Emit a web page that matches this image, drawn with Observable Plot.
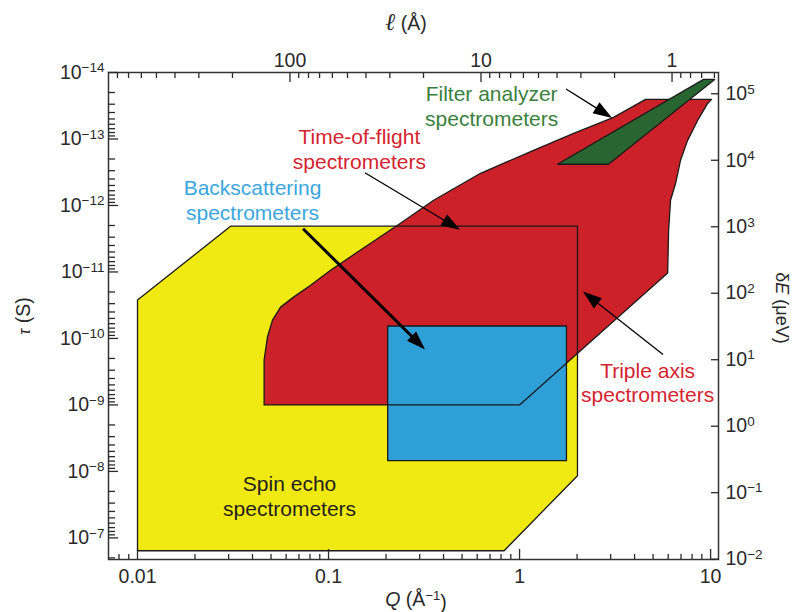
<!DOCTYPE html>
<html><head><meta charset="utf-8">
<script src="https://cdn.jsdelivr.net/npm/d3@7"></script>
<script src="https://cdn.jsdelivr.net/npm/@observablehq/plot@0.6"></script>
<style>
html,body{margin:0;padding:0;background:#fff;}
#chart{width:796px;height:612px;}
</style></head><body><div id="chart"></div>
<script>
// ---------- data (Q in Å^-1, tau in s) ----------
const spinQ   = [0.01, 0.0307, 2.01, 2.01, 0.83, 0.01];
const spinTau = [2.65e-11, 2.05e-12, 2.05e-12, 1.16e-8, 1.56e-7, 1.56e-7];

const tofQ   = [0.046, 0.046, 0.0479, 0.0509, 0.0561, 0.0656, 0.0805, 0.1025, 0.238, 0.355, 0.625, 1.184, 1.918, 3.105, 4.567, 10.12, 9.65, 8.55, 7.58, 6.96, 6.56, 6.17, 6.03, 5.96, 1.0];
const tofTau = [1.0e-9, 2.11e-10, 9.5e-11, 5.3e-11, 3.38e-11, 2.39e-11, 1.58e-11, 9.4e-12, 1.85e-12, 8.36e-13, 3.28e-13, 1.48e-13, 8.24e-14, 4.74e-14, 2.54e-14, 2.54e-14, 2.92e-14, 5.26e-14, 1.05e-13, 2.09e-13, 4.64e-13, 8.36e-13, 2.36e-12, 1.04e-11, 1.0e-9];

const backQ   = [0.204, 1.76, 1.76, 0.204];
const backTau = [6.5e-11, 6.5e-11, 6.9e-9, 6.9e-9];

const filtQ   = [1.58, 2.92, 10.5, 9.19];
const filtTau = [2.4e-13, 2.4e-13, 1.27e-14, 1.27e-14];

const labelText  = ["Filter analyzer\nspectrometers", "Time-of-flight\nspectrometers", "Backscattering\nspectrometers", "Spin echo\nspectrometers", "Triple axis\nspectrometers"];
const labelQ     = [0.714, 0.145, 0.04, 0.0625, 4.68];
const labelTau   = [3.13e-14, 1.38e-13, 8.07e-13, 2.32e-8, 4.52e-10];
const labelColor = ["#3b7f3c", "#d42430", "#3ba6de", "#231f20", "#d42430"];

const arrowQ1   = [1.762, 0.156, 0.074, 5.67];
const arrowTau1 = [1.8e-14, 3.28e-13, 2.28e-12, 1.77e-10];
const arrowQ2   = [3.07, 0.491, 0.322, 2.16];
const arrowTau2 = [4.9e-14, 2.36e-12, 1.49e-10, 2.01e-11];
const arrowWidth = [1.3, 1.3, 3, 1.3];

const qMajor = [0.01, 0.1, 1, 10];
const qMinor = [0.008, 0.009, 0.02, 0.03, 0.04, 0.05, 0.06, 0.07, 0.08, 0.09, 0.2, 0.3, 0.4, 0.5, 0.6, 0.7, 0.8, 0.9, 2, 3, 4, 5, 6, 7, 8, 9];
const tauExp = [-14, -13, -12, -11, -10, -9, -8, -7];
const tauMinorMant = [2, 3, 4, 5, 6, 7, 8, 9];
const lMajor = [100, 10, 1];
const lMinor = [800, 700, 600, 500, 400, 300, 200, 90, 80, 70, 60, 50, 40, 30, 20, 9, 8, 7, 6, 5, 4, 3, 2, 0.9, 0.8, 0.7, 0.6];
const dEExp = [-2, -1, 0, 1, 2, 3, 4, 5];
const logC = -8.68; // δE(μeV) · τ(s) constant

// ---------- helpers ----------
const poly = (qs, ts) => qs.concat([qs[0]]).map((q, i) => ({q, t: ts.concat([ts[0]])[i]}));
const SUP = {"-": "⁻", "0": "⁰", "1": "¹", "2": "²", "3": "³", "4": "⁴", "5": "⁵", "6": "⁶", "7": "⁷", "8": "⁸", "9": "⁹"};
const supStr = n => "10" + String(n).split("").map(c => SUP[c]).join("");
const tauMajor = tauExp.map(e => Math.pow(10, e));
const tauMinor = tauExp.flatMap(e => tauMinorMant.map(m => m * Math.pow(10, e))).filter(v => v <= 2.1e-7);
const twoPi = 2 * Math.PI;

const spin = poly(spinQ, spinTau), tof = poly(tofQ, tofTau), back = poly(backQ, backTau), filt = poly(filtQ, filtTau);
const labels = labelText.map((s, i) => ({s, q: labelQ[i], t: labelTau[i], c: labelColor[i]}));
const arrows = arrowQ1.map((q1, i) => ({q1, t1: arrowTau1[i], q2: arrowQ2[i], t2: arrowTau2[i], w: arrowWidth[i]}));
const dETicks = dEExp.map(e => ({e, t: Math.pow(10, logC - e)}));

const YEL = "#f1e912", RED = "#cc2129", BLU = "#2f9fd8", GRN = "#296530", EDGE = "#1a1a1a";

function arrowsMark(index, scales) {
  const {x, y} = scales;
  const g = d3.create("svg:g").attr("aria-label", "arrows");
  for (const a of arrows) {
    const x1 = x(a.q1), y1 = y(a.t1), x2 = x(a.q2), y2 = y(a.t2);
    const ang = Math.atan2(y2 - y1, x2 - x1);
    const L = 19, hw = 6.5;
    const bx = x2 - L * Math.cos(ang), by = y2 - L * Math.sin(ang);
    g.append("line").attr("x1", x1).attr("y1", y1).attr("x2", bx + 2 * Math.cos(ang)).attr("y2", by + 2 * Math.sin(ang))
      .attr("stroke", "#000").attr("stroke-width", a.w);
    const p = [[x2, y2], [bx + hw * Math.sin(ang), by - hw * Math.cos(ang)], [bx - hw * Math.sin(ang), by + hw * Math.cos(ang)]];
    g.append("polygon").attr("points", p.map(d => d.join(",")).join(" ")).attr("fill", "#000");
  }
  return g.node();
}

const chart = Plot.plot({
  width: 796, height: 612,
  marginLeft: 108, marginTop: 72, marginRight: 78, marginBottom: 53,
  style: {fontFamily: "'Liberation Sans', Arial, sans-serif", fontSize: "19.5px", color: "#2a2a2a", background: "#fff"},
  x: {type: "log", domain: [0.00705, 11.0], label: null},
  y: {type: "log", domain: [1e-14, Math.pow(10, -6.675)], reverse: true, label: null},
  marks: [
    // fills
    Plot.line(spin, {x: "q", y: "t", fill: YEL, stroke: "none"}),
    Plot.line(tof, {x: "q", y: "t", fill: RED, stroke: "none"}),
    Plot.line(back, {x: "q", y: "t", fill: BLU, stroke: "none"}),
    // outlines
    Plot.line(spin, {x: "q", y: "t", stroke: EDGE, strokeWidth: 1.3}),
    Plot.line(tof, {x: "q", y: "t", stroke: EDGE, strokeWidth: 1.3}),
    Plot.line(back, {x: "q", y: "t", stroke: EDGE, strokeWidth: 1.3}),
    Plot.line(filt, {x: "q", y: "t", fill: GRN, stroke: EDGE, strokeWidth: 1.3}),
    // annotations
    Plot.text(labels, {x: "q", y: "t", text: "s", fill: "c", fontSize: 21, lineHeight: 1.19, textAnchor: "middle"}),
    arrowsMark,
    // axes
    Plot.frame({stroke: "#333", strokeWidth: 1.5}),
    Plot.axisX(qMajor, {anchor: "bottom", tickSize: -10, tickPadding: 20, tickFormat: d => String(d), label: null, strokeWidth: 1.3}),
    Plot.axisX(qMinor, {anchor: "bottom", tickSize: -5, text: null, label: null, strokeWidth: 1.3}),
    Plot.axisX(lMajor.map(l => twoPi / l), {anchor: "top", tickSize: -9, text: null, label: null, strokeWidth: 1.3}),
    Plot.axisX(lMinor.map(l => twoPi / l), {anchor: "top", tickSize: -5, text: null, label: null, strokeWidth: 1.3}),
    Plot.text(lMajor, {x: l => twoPi / l, text: l => String(l), frameAnchor: "top", lineAnchor: "bottom", dy: -6, fontSize: 19.5}),
    Plot.axisY(tauMajor, {anchor: "left", tickSize: -10, tickPadding: 14, tickFormat: t => supStr(Math.round(Math.log10(t))), label: null, strokeWidth: 1.3}),
    Plot.axisY(tauMinor, {anchor: "left", tickSize: -7, text: null, label: null, strokeWidth: 1.3}),
    Plot.axisY(dETicks.map(d => d.t), {anchor: "right", tickSize: -8, text: null, label: null, strokeWidth: 1.3}),
    Plot.text(dETicks, {y: "t", text: d => supStr(d.e), frameAnchor: "right", textAnchor: "start", dx: 7, fontSize: 19.5})
  ]
});

// turn unicode superscripts into real superscript tspans
const BACK = {"⁻": "−", "⁰": "0", "¹": "1", "²": "2", "³": "3", "⁴": "4", "⁵": "5", "⁶": "6", "⁷": "7", "⁸": "8", "⁹": "9"};
d3.select(chart).selectAll("text").each(function() {
  const s = this.textContent;
  if (/^10[⁻⁰¹²³⁴⁵⁶⁷⁸⁹]+$/.test(s)) {
    const exp = s.slice(2).split("").map(c => BACK[c]).join("");
    const el = d3.select(this);
    el.text(null);
    el.append("tspan").text("10");
    el.append("tspan").attr("dy", "-0.48em").attr("font-size", "13.5px").text(exp);
  }
});

// axis titles
const svgSel = d3.select(chart);
const lab = svgSel.append("g").attr("fill", "#2a2a2a").attr("font-size", "19.5px");
const topLab = lab.append("text").attr("x", 406).attr("y", 30).attr("text-anchor", "middle");
topLab.append("tspan").attr("font-style", "italic").attr("font-family", "'DejaVu Serif', serif").attr("font-size", "24px").text("ℓ");
topLab.append("tspan").text(" (Å)");
const botLab = lab.append("text").attr("x", 416).attr("y", 606).attr("text-anchor", "middle");
botLab.append("tspan").attr("font-style", "italic").text("Q");
botLab.append("tspan").text(" (Å");
botLab.append("tspan").attr("dy", "-0.48em").attr("font-size", "13px").text("−1");
botLab.append("tspan").attr("dy", "0.48em").text(")");
const leftLab = lab.append("text").attr("transform", "translate(30,316) rotate(-90)").attr("text-anchor", "middle");
leftLab.append("tspan").attr("font-style", "italic").attr("font-size", "16px").text("τ");
leftLab.append("tspan").text(" (S)");
const rightLab = lab.append("text").attr("transform", "translate(776,308) rotate(90)").attr("text-anchor", "middle").attr("font-size", "18px");
rightLab.append("tspan").text("δ");
rightLab.append("tspan").attr("font-style", "italic").text("E");
rightLab.append("tspan").text(" (μeV)");

document.getElementById("chart").appendChild(chart);
</script></body></html>
